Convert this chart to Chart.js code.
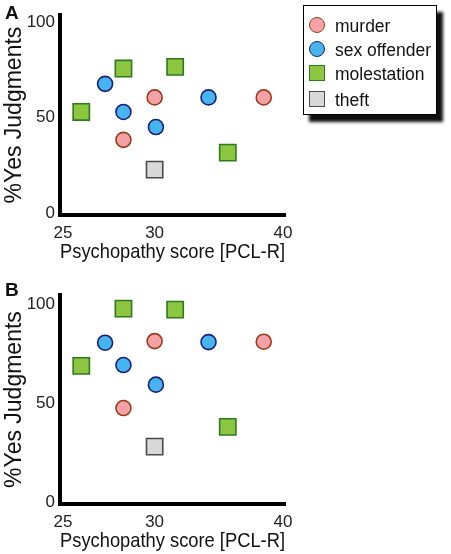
<!DOCTYPE html>
<html>
<head>
<meta charset="utf-8">
<script src="https://cdn.jsdelivr.net/npm/chart.js@4/dist/chart.umd.min.js"></script>
<style>
  body { margin: 0; background: #fff; font-family: "Liberation Sans", Arial, sans-serif; }
  #wrap { position: relative; width: 451px; height: 554px; overflow: hidden; }
  .panel { position: absolute; left: 0; }
  .tag { position: absolute; left: 5px; font-weight: bold; font-size: 19px; color: #111; }
  #legend {
    position: absolute; left: 303px; top: 5px; width: 132px; height: 108px;
    border: 1.5px solid #000; background: #fff; box-shadow: 6px 7px 3px #111;
  }
  .item { position: absolute; left: 0; height: 20px; font-size: 17.5px; color: #111; }
  .item span { position: absolute; left: 31px; top: 0; white-space: nowrap; line-height: 20px; }
  .mk { position: absolute; left: 5px; top: 1px; width: 14px; height: 14px; }
</style>
</head>
<body>
<div id="wrap">
  <div class="panel" style="top:0;width:451px;height:265px"><canvas id="chartA"></canvas></div>
  <div class="panel" style="top:280px;width:451px;height:274px"><canvas id="chartB"></canvas></div>
  <div class="tag" style="top:2px">A</div>
  <div class="tag" style="top:279px">B</div>
  <div id="legend"></div>
</div>
<script>
// x positions are the same in both panels
const murderX = [30, 28.3, 38.5];
const sexX = [27.3, 28.3, 30.1, 34.2];
const molestX = [26, 28.3, 31.6, 35.7];
const theftX = [30];

// panel A
const murderA = [60.5, 38.3, 60.5];
const sexA = [67.6, 52.9, 45, 60.5];
const molestA = [52.9, 75.6, 76.5, 31.6];
const theftA = [22.7];

// panel B
const murderB = [81.3, 47.5, 81];
const sexB = [80.5, 69.2, 59.3, 80.8];
const molestB = [68.8, 97.7, 97.2, 38];
const theftB = [28];

const xTicks = [25, 30, 40];
const yTicks = [0, 50, 100];

// the x axis is compressed above 30 in the original figure
const xBreak = 30, xSqueeze = 0.7;
const warpX = v => v <= xBreak ? v : xBreak + (v - xBreak) * xSqueeze;
const unwarpX = v => v <= xBreak ? v : xBreak + (v - xBreak) / xSqueeze;

class WarpedScale extends Chart.LinearScale {
  getPixelForValue(value) { return super.getPixelForValue(warpX(value)); }
  getValueForPixel(pixel) { return unwarpX(super.getValueForPixel(pixel)); }
}
WarpedScale.id = 'warped';
WarpedScale.defaults = Chart.LinearScale.defaults;
Chart.register(WarpedScale);

const series = [
  { label: 'murder', style: 'circle', fill: '#f4a2a6', line: '#9b3b1d', xs: murderX },
  { label: 'sex offender', style: 'circle', fill: '#46b4ee', line: '#1b1f7a', xs: sexX },
  { label: 'molestation', style: 'rect', fill: '#8dc640', line: '#2e7a1e', xs: molestX },
  { label: 'theft', style: 'rect', fill: '#d9d9d9', line: '#4a4a4a', xs: theftX }
];

const font = '"Liberation Sans", Arial, sans-serif';

function makeChart(id, ys, top, yMin, yMax) {
  const datasets = series.map((s, i) => ({
    label: s.label,
    data: s.xs.map((x, j) => ({ x: x, y: ys[i][j] })),
    pointStyle: s.style,
    radius: s.style === 'rect' ? 11.5 : 7.5,
    backgroundColor: s.fill,
    borderColor: s.line,
    borderWidth: 1.6
  }));
  return new Chart(document.getElementById(id), {
    type: 'scatter',
    data: { datasets: datasets },
    options: {
      responsive: true,
      maintainAspectRatio: false,
      animation: false,
      layout: { padding: { top: top, right: 166, left: 0, bottom: 0 } },
      plugins: { legend: { display: false }, tooltip: { enabled: false } },
      scales: {
        x: {
          type: 'warped',
          min: 24.84,
          max: warpX(40) + 0.11,
          grid: { display: false, drawTicks: false },
          border: { display: true, color: '#000', width: 4 },
          afterBuildTicks: s => { s.ticks = xTicks.map(v => ({ value: v })); },
          afterFit: s => { s.height = 50; },
          ticks: { padding: 8, color: '#222', font: { family: font, size: 17 } },
          title: {
            display: true, text: 'Psychopathy score [PCL-R]', color: '#111',
            padding: 0, font: { family: font, size: 21 }
          }
        },
        y: {
          min: yMin,
          max: yMax,
          grid: { display: false, drawTicks: false },
          border: { display: true, color: '#000', width: 4 },
          afterBuildTicks: s => { s.ticks = yTicks.map(v => ({ value: v })); },
          afterFit: s => { s.width = 60; },
          ticks: { padding: 5, color: '#222', font: { family: font, size: 17 } },
          title: {
            display: true, text: '%Yes Judgments', color: '#111',
            padding: 1, font: { family: font, size: 23 }
          }
        }
      }
    }
  });
}

makeChart('chartA', [murderA, sexA, molestA, theftA], 6, -1, 103.5);
makeChart('chartB', [murderB, sexB, molestB, theftB], 13, -1, 104.5);

// legend built from the series list
const legend = document.getElementById('legend');
const rowTops = [10, 34, 58, 84];
series.forEach((s, i) => {
  const row = document.createElement('div');
  row.className = 'item';
  row.style.top = rowTops[i] + 'px';
  const mk = document.createElement('div');
  mk.className = 'mk';
  mk.style.background = s.fill;
  mk.style.border = '1.6px solid ' + s.line;
  if (s.style === 'circle') mk.style.borderRadius = '50%';
  const txt = document.createElement('span');
  txt.textContent = s.label;
  row.appendChild(mk);
  row.appendChild(txt);
  legend.appendChild(row);
});
</script>
</body>
</html>
